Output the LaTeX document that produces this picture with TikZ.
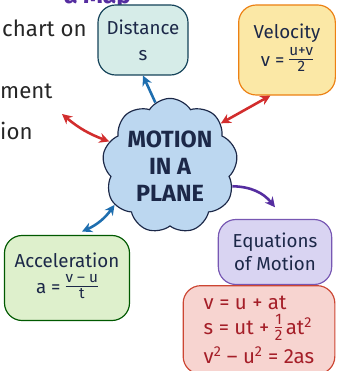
\documentclass[tikz,border=0pt]{standalone}
\usepackage{amsmath}
\usepackage{fontspec}
\setmainfont{Fira Sans}
\usepackage{tikz}
\usetikzlibrary{arrows.meta,positioning,shapes.symbols}
\definecolor{mynavy}{RGB}{28,40,72}
\definecolor{myteal}{RGB}{214,236,232}
\definecolor{myyellow}{RGB}{251,232,166}
\definecolor{mygreen}{RGB}{222,240,204}
\definecolor{mylilac}{RGB}{217,212,242}
\definecolor{mypink}{RGB}{247,212,208}
\definecolor{mysky}{RGB}{188,215,240}
\definecolor{myblue}{RGB}{30,110,175}
\definecolor{myred}{RGB}{210,45,45}
\definecolor{mypurple}{RGB}{85,45,160}
\definecolor{myeq}{RGB}{165,30,40}
% small stacked fraction in the text font
\newcommand{\hfrac}[2]{\raisebox{0.2ex}{\fontsize{13}{13}\selectfont\setlength{\tabcolsep}{0pt}%
  \renewcommand{\arraystretch}{0.9}\begin{tabular}[c]{c}#1\\[-1pt]\hline\rule{0pt}{10.5pt}#2\end{tabular}}}

\begin{document}
\begin{tikzpicture}[x=0.03cm, y=-0.03cm,
    topic/.style={rectangle, rounded corners=15pt, line width=1pt, align=center,
                  font=\fontsize{16}{20}\selectfont, text=mynavy},
    side/.style={anchor=west, inner sep=0pt, font=\fontsize{19}{22}\selectfont, text=black!85},
    arr/.style={-{Stealth[length=3mm, width=3mm]}, line width=2.2pt},
    darr/.style={{Stealth[length=3mm, width=3mm]}-{Stealth[length=3mm, width=3mm]}, line width=2.2pt}]
\useasboundingbox (0,0) rectangle (337,371);
% cut-off page text on the left
\node[anchor=west, font=\bfseries\fontsize{21}{23}\selectfont, text=mypurple] (title) at (60,-2) {a Map};
\node[side] (l1) at (2,28) {chart on};
\node[side] (l2) at (0,91) {ment};
\node[side] (l3) at (0,131) {ion};
\coordinate (lt) at (62,114);
% centre
\node[cloud, cloud puffs=9, cloud puff arc=115, aspect=1, draw=mynavy, line width=1pt, fill=mysky,
      minimum width=3.3cm, minimum height=3.5cm, inner sep=0pt, align=center, text=mynavy,
      font=\bfseries\fontsize{20}{23}\selectfont] (cloud) at (170,166) {MOTION\\IN A\\PLANE};
% topics
\node[topic, draw=mynavy!70!teal, fill=myteal, minimum width=2.7cm, minimum height=2.1cm] (dist) at (143,40) {Distance\\[2pt]s};
\node[topic, draw=orange!70!brown, fill=myyellow, minimum width=2.9cm, minimum height=2.7cm] (vel) at (287,50) {Velocity\\[2pt]v = \hfrac{u+v}{2}};
\node[topic, draw=green!35!black, fill=mygreen, minimum width=3.75cm, minimum height=2.55cm] (acc) at (67,278) {Acceleration\\[2pt]a = \hfrac{v -- u}{t}};
\node[topic, draw=mypurple!80, fill=mylilac, minimum width=3.4cm, minimum height=1.95cm] (eqm) at (275,252) {Equations\\of Motion};
\node[topic, draw=myred!70!brown, fill=mypink, text=myeq, minimum width=4.55cm, minimum height=2.65cm,
      align=left, font=\fontsize{17.5}{21}\selectfont, below=0pt of eqm.south, xshift=-0.48cm] (eqs)
      {v = u + at\\[1pt]s = ut + \hfrac{1}{2}\,at\textsuperscript{2}\\[1pt]v\textsuperscript{2} -- u\textsuperscript{2} = 2as};
% connectors
\draw[arr, myblue] (cloud.103) -- (dist.south);
\draw[darr, myred] (cloud.40) -- (vel.250);
\draw[darr, myred] (cloud.158) to[bend left=10] (lt);
\draw[arr, mypurple] (cloud.-18) to[bend left=25] ([xshift=0cm, yshift=0.35cm]eqm.north);
\draw[darr, myblue] (cloud.215) to[bend left=15] ([xshift=0.45cm, yshift=0.1cm]acc.north);
\end{tikzpicture}
\end{document}
